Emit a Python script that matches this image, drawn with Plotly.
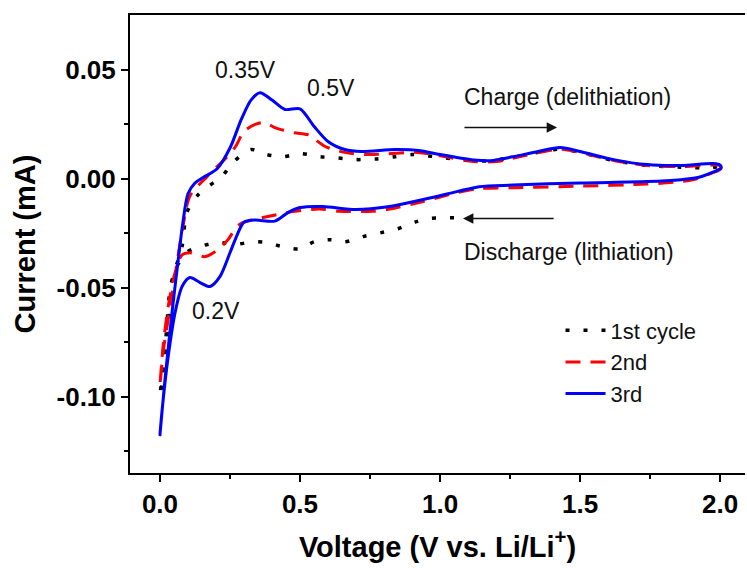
import plotly.graph_objects as go

# ---------------- data ----------------
# 3rd cycle: cathodic sweep (2.0 V -> 0 V) followed by anodic sweep (0 V -> 2.0 V)
v3_cath = [2.0, 2.003, 1.975, 1.92, 1.86, 1.74, 1.5, 1.26, 1.14, 1.06, 0.94, 0.82, 0.70, 0.58,
           0.50, 0.457, 0.41, 0.34, 0.30, 0.275, 0.25, 0.214, 0.179, 0.143, 0.107, 0.079, 0.054,
           0.029, 0.007, 0.0]
i3_cath = [0.0062, 0.0048, 0.0030, 0.0005, -0.0005, -0.0014, -0.0020, -0.0030, -0.0037, -0.0060,
           -0.0096, -0.0128, -0.0142, -0.0128, -0.0133, -0.0156, -0.0195, -0.0190, -0.0200, -0.0260,
           -0.0340, -0.0450, -0.0495, -0.0477, -0.0454, -0.0495, -0.0615, -0.0820, -0.1070, -0.1175]
v3_anod = [0.018, 0.043, 0.064, 0.082, 0.100, 0.125, 0.154, 0.204, 0.25, 0.29, 0.325, 0.357,
           0.40, 0.446, 0.50, 0.55, 0.60, 0.66, 0.72, 0.84, 0.93, 1.0, 1.12, 1.18, 1.26, 1.35,
           1.43, 1.5, 1.62, 1.74, 1.86, 1.975, 2.0]
i3_anod = [-0.0920, -0.0615, -0.0385, -0.0200, -0.0070, -0.0020, 0.0005, 0.0045, 0.0140, 0.0270,
           0.0360, 0.0394, 0.0360, 0.0317, 0.0320, 0.0240, 0.0170, 0.0133, 0.0124, 0.0133, 0.0128,
           0.0110, 0.0085, 0.0082, 0.0100, 0.0124, 0.0142, 0.0124, 0.0087, 0.0064, 0.0060, 0.0069,
           0.0062]

# 2nd cycle
v2_cath = [2.0, 2.003, 1.97, 1.92, 1.86, 1.74, 1.5, 1.26, 1.14, 1.06, 0.94, 0.82, 0.76, 0.64,
           0.57, 0.48, 0.385, 0.30, 0.275, 0.243, 0.207, 0.160, 0.107, 0.079, 0.054, 0.029,
           0.011, 0.0]
i2_cath = [0.0060, 0.0045, 0.0025, 0.0000, -0.0014, -0.0025, -0.0035, -0.0042, -0.0046, -0.0065,
           -0.0105, -0.0140, -0.0150, -0.0150, -0.0140, -0.0150, -0.0174, -0.0200, -0.0220, -0.0280,
           -0.0326, -0.0358, -0.0340, -0.0350, -0.0430, -0.0590, -0.0770, -0.0950]
v2_anod = [0.011, 0.036, 0.061, 0.082, 0.107, 0.168, 0.24, 0.27, 0.30, 0.34, 0.375, 0.41, 0.48,
           0.53, 0.59, 0.66, 0.74, 0.92, 1.0, 1.12, 1.2, 1.3, 1.43, 1.5, 1.62, 1.74, 1.86, 1.97, 2.0]
i2_anod = [-0.0800, -0.0590, -0.0385, -0.0220, -0.0080, 0.0009, 0.0100, 0.0147, 0.0216, 0.0248,
           0.0257, 0.0234, 0.0210, 0.0200, 0.0147, 0.0120, 0.0110, 0.0120, 0.0105, 0.0078, 0.0078,
           0.0105, 0.0135, 0.0120, 0.0083, 0.0060, 0.0055, 0.0062, 0.0060]

# 1st cycle: starts at open-circuit voltage (~1.05 V)
v1_cath = [1.05, 1.025, 0.96, 0.91, 0.85, 0.79, 0.725, 0.66, 0.61, 0.55, 0.50, 0.43, 0.386,
           0.33, 0.28, 0.207, 0.146, 0.093, 0.054, 0.036, 0.020, 0.0]
i1_cath = [-0.0180, -0.0180, -0.0183, -0.0200, -0.0230, -0.0248, -0.0266, -0.0290, -0.0280,
           -0.0290, -0.0322, -0.0310, -0.0294, -0.0290, -0.0300, -0.0294, -0.0310, -0.0340,
           -0.0420, -0.0510, -0.0750, -0.1000]
v1_anod = [0.025, 0.046, 0.079, 0.096, 0.132, 0.171, 0.221, 0.26, 0.325, 0.38, 0.44, 0.50, 0.57,
           0.625, 0.70, 0.77, 0.84, 0.90, 0.95, 1.01, 1.07, 1.15, 1.25, 1.35, 1.43, 1.5, 1.62,
           1.74, 1.86, 1.97, 2.0]
i1_anod = [-0.0770, -0.0460, -0.0310, -0.0156, -0.0080, -0.0037, 0.0009, 0.0073, 0.0133, 0.0110,
           0.0100, 0.0115, 0.0100, 0.0096, 0.0087, 0.0090, 0.0100, 0.0110, 0.0105, 0.0096, 0.0087,
           0.0080, 0.0095, 0.0120, 0.0135, 0.0120, 0.0083, 0.0060, 0.0052, 0.0050, 0.0058]

series_names = ["1st cycle", "2nd", "3rd"]

x_tickvals = [0.0, 0.5, 1.0, 1.5, 2.0]
x_ticktext = ["0.0", "0.5", "1.0", "1.5", "2.0"]
x_minorvals = [0.25, 0.75, 1.25, 1.75]
y_tickvals = [-0.10, -0.05, 0.00, 0.05]
y_ticktext = ["-0.10", "-0.05", "0.00", "0.05"]
y_minorvals = [-0.125, -0.075, -0.025, 0.025]

# ---------------- figure ----------------
FONT = "Liberation Sans, Arial, sans-serif"
fig = go.Figure()

fig.add_trace(go.Scatter(
    x=v1_cath + v1_anod, y=i1_cath + i1_anod, name=series_names[0], mode="lines",
    line=dict(color="black", width=3.5, dash="4px,14px", shape="spline", smoothing=0.8)))
fig.add_trace(go.Scatter(
    x=v2_cath + v2_anod, y=i2_cath + i2_anod, name=series_names[1], mode="lines",
    line=dict(color="#ff0000", width=3, dash="15px,10px", shape="spline", smoothing=0.8)))
fig.add_trace(go.Scatter(
    x=v3_cath + v3_anod, y=i3_cath + i3_anod, name=series_names[2], mode="lines",
    line=dict(color="#0000ff", width=3, shape="spline", smoothing=0.8)))

ann_font = dict(family=FONT, size=23, color="#111111")
fig.add_annotation(x=0.304, y=0.050, text="0.35V", showarrow=False, font=ann_font)
fig.add_annotation(x=0.61, y=0.0417, text="0.5V", showarrow=False, font=ann_font)
fig.add_annotation(x=0.20, y=-0.0606, text="0.2V", showarrow=False, font=ann_font)
fig.add_annotation(x=1.078, y=0.0372, text="Charge (delithiation)", showarrow=False,
                   xanchor="left", font=ann_font)
fig.add_annotation(x=1.078, y=-0.0335, text="Discharge (lithiation)", showarrow=False,
                   xanchor="left", font=ann_font)
# arrows
fig.add_annotation(x=1.418, y=0.0234, ax=1.082, ay=0.0234, axref="x", ayref="y",
                   showarrow=True, arrowhead=2, arrowsize=1.3, arrowwidth=1.6,
                   arrowcolor="#111111", text="")
fig.add_annotation(x=1.082, y=-0.0183, ax=1.411, ay=-0.0183, axref="x", ayref="y",
                   showarrow=True, arrowhead=2, arrowsize=1.3, arrowwidth=1.6,
                   arrowcolor="#111111", text="")

tick_font = dict(family=FONT, size=26, color="black", weight="bold")
title_font = dict(family=FONT, size=29, color="black", weight="bold")

fig.update_xaxes(
    range=[-0.107, 2.089], showgrid=False, zeroline=False,
    showline=True, linecolor="black", linewidth=2, mirror=True,
    tickmode="array", tickvals=x_tickvals, ticktext=x_ticktext,
    ticks="outside", ticklen=7, tickwidth=2, tickcolor="black",
    minor=dict(tickvals=x_minorvals, ticks="outside", ticklen=4, tickwidth=2, tickcolor="black"),
    tickfont=tick_font,
    title=dict(text="Voltage (V vs. Li/Li<sup>+</sup>)", font=title_font, standoff=18))
fig.update_yaxes(
    range=[-0.135, 0.075], showgrid=False, zeroline=False,
    showline=True, linecolor="black", linewidth=2,
    tickmode="array", tickvals=y_tickvals, ticktext=y_ticktext,
    ticks="outside", ticklen=7, tickwidth=2, tickcolor="black",
    minor=dict(tickvals=y_minorvals, ticks="outside", ticklen=4, tickwidth=2, tickcolor="black"),
    tickfont=tick_font,
    title=dict(text="Current (mA)", font=title_font, standoff=12))

fig.update_layout(
    width=747, height=568,
    margin=dict(l=130, r=2, t=15, b=95, autoexpand=False),
    paper_bgcolor="white", plot_bgcolor="white",
    showlegend=True,
    legend=dict(x=0.70, y=0.357, xanchor="left", yanchor="top",
                bgcolor="rgba(0,0,0,0)", borderwidth=0,
                font=dict(family=FONT, size=22, color="#111111"),
                itemwidth=40, tracegroupgap=0),
)

fig.write_html("out.html")
